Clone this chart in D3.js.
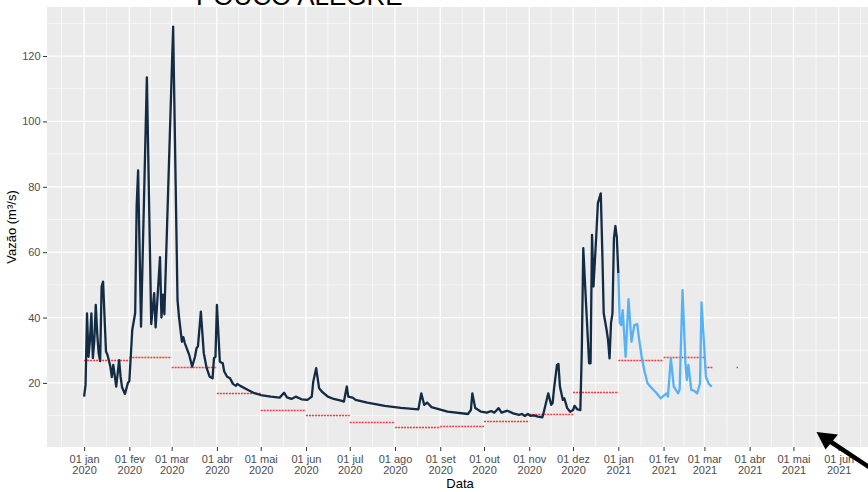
<!DOCTYPE html>
<html>
<head>
<meta charset="utf-8">
<script src="https://cdn.jsdelivr.net/npm/d3@7"></script>
<style>
body { margin: 0; background: #fff; }
svg { display: block; font-family: "Liberation Sans", Arial, sans-serif; }
</style>
</head>
<body>
<script>
// vazao diaria observada (2020)
var observed = [
  ["2020-01-01", 15.8], ["2020-01-02", 19.4], ["2020-01-03", 41.3], ["2020-01-04", 28], ["2020-01-05", 33],
  ["2020-01-06", 41.3], ["2020-01-07", 27.6], ["2020-01-08", 33], ["2020-01-09", 43.9], ["2020-01-10", 35],
  ["2020-01-11", 29], ["2020-01-12", 26.7], ["2020-01-13", 49.5], ["2020-01-14", 51], ["2020-01-16", 29.6],
  ["2020-01-17", 28.6], ["2020-01-19", 25], ["2020-01-20", 21.8], ["2020-01-21", 25.5], ["2020-01-23", 18.9],
  ["2020-01-25", 27], ["2020-01-26", 21.9], ["2020-01-27", 18.7], ["2020-01-29", 16.6], ["2020-01-31", 20],
  ["2020-02-01", 20.6], ["2020-02-03", 36.2], ["2020-02-05", 41.4], ["2020-02-06", 74], ["2020-02-07", 85],
  ["2020-02-09", 37.2], ["2020-02-13", 113.5], ["2020-02-16", 38], ["2020-02-18", 47.5], ["2020-02-19", 37],
  ["2020-02-20", 44], ["2020-02-22", 58.5], ["2020-02-23", 40], ["2020-02-24", 47], ["2020-02-25", 41],
  ["2020-03-02", 129], ["2020-03-05", 45.4], ["2020-03-06", 40.3], ["2020-03-08", 32.6], ["2020-03-09", 34],
  ["2020-03-10", 32.2], ["2020-03-13", 28.6], ["2020-03-15", 25], ["2020-03-17", 28], ["2020-03-18", 30.6],
  ["2020-03-19", 31.2], ["2020-03-21", 41.8], ["2020-03-23", 29.1], ["2020-03-25", 24.5], ["2020-03-27", 21.9],
  ["2020-03-29", 21.4], ["2020-03-30", 27.6], ["2020-03-31", 28], ["2020-04-01", 43.9], ["2020-04-03", 26.5],
  ["2020-04-05", 26], ["2020-04-06", 23.5], ["2020-04-08", 21.9], ["2020-04-10", 21.4], ["2020-04-12", 19.7],
  ["2020-04-14", 19.1], ["2020-04-15", 19.7], ["2020-04-17", 19.1], ["2020-04-22", 17.9], ["2020-04-26", 17],
  ["2020-05-01", 16.3], ["2020-05-08", 15.8], ["2020-05-14", 15.5], ["2020-05-17", 17], ["2020-05-19", 15.6],
  ["2020-05-22", 15.1], ["2020-05-25", 15.8], ["2020-05-29", 15], ["2020-06-02", 14.8], ["2020-06-05", 15.8],
  ["2020-06-06", 20.4], ["2020-06-08", 24.5], ["2020-06-10", 18.4], ["2020-06-12", 17.3], ["2020-06-16", 15.8],
  ["2020-06-20", 15.1], ["2020-06-25", 14.6], ["2020-06-27", 14.3], ["2020-06-29", 18.9], ["2020-06-30", 15.8],
  ["2020-07-03", 15.5], ["2020-07-05", 14.8], ["2020-07-13", 14], ["2020-07-25", 13], ["2020-08-05", 12.4],
  ["2020-08-17", 11.9], ["2020-08-19", 16.8], ["2020-08-21", 13.3], ["2020-08-23", 14], ["2020-08-26", 12.6],
  ["2020-09-06", 11.2], ["2020-09-20", 10.5], ["2020-09-22", 11.7], ["2020-09-23", 16.8], ["2020-09-25", 12.3],
  ["2020-09-29", 11.2], ["2020-10-03", 10.9], ["2020-10-06", 11.4], ["2020-10-08", 10.9], ["2020-10-11", 12.3],
  ["2020-10-13", 10.9], ["2020-10-17", 11.5], ["2020-10-21", 10.7], ["2020-10-25", 10.2], ["2020-10-27", 10.5],
  ["2020-10-29", 9.9], ["2020-10-31", 10.5], ["2020-11-02", 9.9], ["2020-11-04", 10.1], ["2020-11-07", 9.7],
  ["2020-11-10", 9.5], ["2020-11-11", 11.2], ["2020-11-14", 16.8], ["2020-11-16", 13.3], ["2020-11-17", 13.8],
  ["2020-11-18", 18.4], ["2020-11-20", 25.5], ["2020-11-21", 25.8], ["2020-11-22", 18.9], ["2020-11-24", 14.8],
  ["2020-11-25", 15.3], ["2020-11-27", 12.3], ["2020-11-29", 11.2], ["2020-12-01", 11.7], ["2020-12-02", 13],
  ["2020-12-04", 11.9], ["2020-12-06", 11.7], ["2020-12-07", 30], ["2020-12-08", 61.2], ["2020-12-10", 43.3],
  ["2020-12-12", 26], ["2020-12-13", 26], ["2020-12-14", 65.3], ["2020-12-15", 49.5], ["2020-12-17", 65.8],
  ["2020-12-18", 75], ["2020-12-20", 78], ["2020-12-21", 60.7], ["2020-12-22", 41.3], ["2020-12-24", 36.2],
  ["2020-12-25", 33], ["2020-12-26", 27.5], ["2020-12-27", 38.3], ["2020-12-28", 41.3], ["2020-12-29", 64.2],
  ["2020-12-30", 68], ["2020-12-31", 64.5], ["2021-01-01", 53.5]
];

// vazao 2021
var recent = [
  ["2021-01-01", 53.5], ["2021-01-02", 38.3], ["2021-01-03", 37.7], ["2021-01-04", 42.3], ["2021-01-06", 28],
  ["2021-01-08", 45.6], ["2021-01-10", 32.6], ["2021-01-12", 37.7], ["2021-01-14", 38], ["2021-01-15", 34.2],
  ["2021-01-17", 28], ["2021-01-19", 23.5], ["2021-01-21", 19.9], ["2021-01-25", 17.9], ["2021-01-27", 17],
  ["2021-01-30", 15.3], ["2021-02-03", 16.8], ["2021-02-04", 15.8], ["2021-02-06", 27.6], ["2021-02-08", 18.9],
  ["2021-02-11", 16.8], ["2021-02-12", 17.9], ["2021-02-14", 48.4], ["2021-02-16", 26], ["2021-02-17", 20.9],
  ["2021-02-18", 25.5], ["2021-02-20", 17.9], ["2021-02-22", 17.6], ["2021-02-24", 16.8], ["2021-02-26", 19.9],
  ["2021-02-27", 44.6], ["2021-03-01", 30.1], ["2021-03-02", 21.9], ["2021-03-04", 19.7], ["2021-03-06", 18.9]
];

// medias mensais: inicio, fim, valor
var monthlyMeans = [
  ["2020-01-01", "2020-02-01", 26.9], ["2020-02-01", "2020-03-01", 28.0], ["2020-03-01", "2020-04-01", 24.8],
  ["2020-04-01", "2020-05-01", 16.9], ["2020-05-01", "2020-06-01", 11.7], ["2020-06-01", "2020-07-01", 10.3],
  ["2020-07-01", "2020-08-01", 8.0], ["2020-08-01", "2020-09-01", 6.5], ["2020-09-01", "2020-10-01", 6.8],
  ["2020-10-01", "2020-11-01", 8.4], ["2020-11-01", "2020-12-01", 10.5], ["2020-12-01", "2021-01-01", 17.3],
  ["2021-01-01", "2021-02-01", 26.9], ["2021-02-01", "2021-03-01", 28.0], ["2021-03-01", "2021-03-07", 24.8],
  ["2021-03-23", "2021-03-24", 24.8]
];

var monthNames = ["jan", "fev", "mar", "abr", "mai", "jun", "jul", "ago", "set", "out", "nov", "dez"];
var yTicks = [20, 40, 60, 80, 100, 120];
var yMinor = [10, 30, 50, 70, 90, 110, 130];

var width = 868, height = 492;
var panel = {left: 47, top: 7, right: 873, bottom: 447};

var parse = d3.utcParse("%Y-%m-%d");

var x = d3.scaleUtc()
    .domain([new Date(Date.UTC(2019, 11, 6, 14)), new Date(Date.UTC(2021, 5, 24, 12))])
    .range([panel.left, panel.right]);

var y = d3.scaleLinear()
    .domain([0.4, 135])
    .range([panel.bottom, panel.top]);

var svg = d3.select("body").append("svg")
    .attr("width", width)
    .attr("height", height);

svg.append("rect")
    .attr("x", panel.left)
    .attr("y", panel.top)
    .attr("width", panel.right - panel.left)
    .attr("height", panel.bottom - panel.top)
    .style("fill", "#EBEBEB");

// month ticks and mid-month minor lines
var months = d3.utcMonth.range(new Date(Date.UTC(2020, 0, 1)), new Date(Date.UTC(2021, 6, 1)));
var allMonths = d3.utcMonth.range(new Date(Date.UTC(2019, 11, 1)), new Date(Date.UTC(2021, 7, 1)));
var xMinor = d3.pairs(allMonths).map(p => new Date((p[0].getTime() + p[1].getTime()) / 2));

var grid = svg.append("g");

grid.selectAll(".ymin").data(yMinor).enter().append("line")
    .attr("x1", panel.left).attr("x2", panel.right)
    .attr("y1", d => y(d)).attr("y2", d => y(d))
    .style("stroke", "#fff").style("stroke-width", 0.6);

grid.selectAll(".xmin").data(xMinor).enter().append("line")
    .attr("y1", panel.top).attr("y2", panel.bottom)
    .attr("x1", d => x(d)).attr("x2", d => x(d))
    .style("stroke", "#fff").style("stroke-width", 0.6);

grid.selectAll(".ymaj").data(yTicks).enter().append("line")
    .attr("x1", panel.left).attr("x2", panel.right)
    .attr("y1", d => y(d)).attr("y2", d => y(d))
    .style("stroke", "#fff").style("stroke-width", 1.3);

grid.selectAll(".xmaj").data(months).enter().append("line")
    .attr("y1", panel.top).attr("y2", panel.bottom)
    .attr("x1", d => x(d)).attr("x2", d => x(d))
    .style("stroke", "#fff").style("stroke-width", 1.3);

// monthly means
svg.append("g").selectAll("line").data(monthlyMeans).enter().append("line")
    .attr("x1", d => x(parse(d[0])))
    .attr("x2", d => x(parse(d[1])))
    .attr("y1", d => Math.round(y(d[2])) + 0.5)
    .attr("y2", d => Math.round(y(d[2])) + 0.5)
    .style("stroke", "#f03c3c")
    .style("stroke-width", 1.5)
    .style("stroke-dasharray", "2,1");

var line = d3.line()
    .x(d => x(parse(d[0])))
    .y(d => y(d[1]));

svg.append("path")
    .datum(observed)
    .attr("d", line)
    .style("fill", "none")
    .style("stroke", "#132B43")
    .style("stroke-width", 2.3)
    .style("stroke-linejoin", "round");

svg.append("path")
    .datum(recent)
    .attr("d", line)
    .style("fill", "none")
    .style("stroke", "#56B1F7")
    .style("stroke-width", 2.3)
    .style("stroke-linejoin", "round");

// axes
var xAxis = svg.append("g")
    .attr("transform", "translate(0," + panel.bottom + ")")
    .call(d3.axisBottom(x).tickValues(months).tickSize(4).tickFormat(""));
xAxis.select(".domain").remove();
xAxis.selectAll(".tick line").style("stroke", "#333").style("stroke-width", 1);
xAxis.selectAll(".tick").append("text")
    .style("fill", "#4D4D4D")
    .style("font-size", "11px")
    .attr("text-anchor", "middle")
    .each(function(d) {
        var t = d3.select(this);
        t.append("tspan").attr("x", 0).attr("y", 15.5).text("01 " + monthNames[d.getUTCMonth()]);
        t.append("tspan").attr("x", 0).attr("y", 26.5).text(d.getUTCFullYear());
    });

var yAxis = svg.append("g")
    .attr("transform", "translate(" + panel.left + ",0)")
    .call(d3.axisLeft(y).tickValues(yTicks).tickSize(4).tickPadding(2.5));
yAxis.select(".domain").remove();
yAxis.selectAll(".tick line").style("stroke", "#333");
yAxis.selectAll(".tick text")
    .style("fill", "#4D4D4D")
    .style("font-size", "11px")
    .style("font-family", "Liberation Sans, Arial, sans-serif");

svg.append("text")
    .attr("x", 460)
    .attr("y", 488)
    .attr("text-anchor", "middle")
    .style("font-size", "13px")
    .text("Data");

svg.append("text")
    .attr("transform", "translate(16," + ((panel.top + panel.bottom) / 2) + ") rotate(-90)")
    .attr("text-anchor", "middle")
    .style("font-size", "13px")
    .text("Vazão (m³/s)");

// titulo cortado no topo, como na imagem original
svg.append("text")
    .attr("x", 196)
    .attr("y", 5)
    .style("font-size", "26px")
    .text("POUCO ALEGRE");

// seta
svg.append("line")
    .attr("x1", 875).attr("y1", 471)
    .attr("x2", 828).attr("y2", 440)
    .style("stroke", "#000")
    .style("stroke-width", 4.5);
svg.append("path")
    .attr("d", "M816.5,432 L838,434.5 L825.5,449.5 Z")
    .style("fill", "#000");
</script>
</body>
</html>
